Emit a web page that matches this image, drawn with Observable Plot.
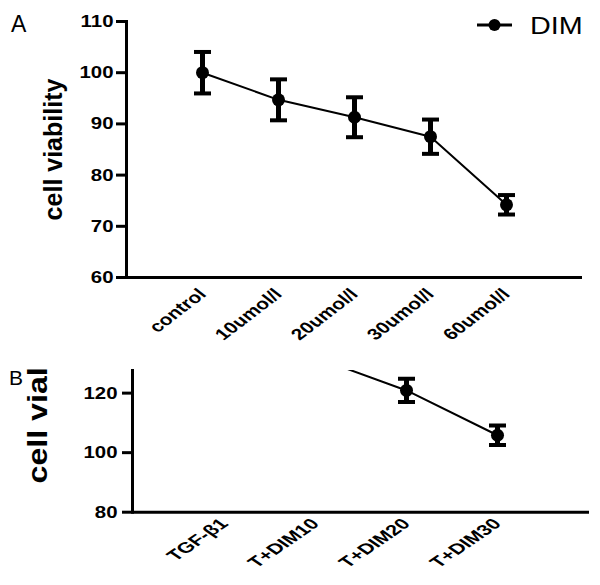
<!DOCTYPE html>
<html><head><meta charset="utf-8">
<script src="https://cdn.jsdelivr.net/npm/d3@7"></script>
<script src="https://cdn.jsdelivr.net/npm/@observablehq/plot@0.6"></script>
<style>
body{margin:0;background:#fff;}
#wrap{position:relative;width:600px;height:585px;overflow:hidden;font-family:"Liberation Sans",Arial,sans-serif;color:#000;}
#a,#b{position:absolute;left:0;}
#a{top:0}
#b{top:368px}
#a svg,#b svg{overflow:hidden;}
.lbl{position:absolute;line-height:1;}
</style></head><body>
<div id="wrap">
  <div id="a"></div>
  <div id="b"></div>
  <div class="lbl" style="left:11px;top:12.5px;font-size:23px">A</div>
  <div class="lbl" style="left:9px;top:367px;font-size:21px">B</div>
  <svg style="position:absolute;left:474px;top:15px" width="42" height="20">
    <line x1="3" y1="10" x2="38" y2="10" stroke="#000" stroke-width="3"/>
    <circle cx="20.5" cy="10" r="6" fill="#000"/>
  </svg>
  <div class="lbl" style="left:530px;top:14.5px;font-size:23px;transform:scaleX(1.25);transform-origin:left top">DIM</div>
</div>
<script>
// Panel A data
const catsA = ["control", "10umol/l", "20umol/l", "30umol/l", "60umol/l"];
const meanA = [100, 94.7, 91.3, 87.5, 74.2];
const errA = [4.05, 4.0, 3.9, 3.35, 1.9];
const ticksA = [60, 70, 80, 90, 100, 110];

// Panel B data (first two points lie above the cropped panel)
const catsB = ["TGF-β1", "T+DIM10", "T+DIM20", "T+DIM30"];
const meanB = [140, 132, 120.9, 105.85];
const errB = [4, 3.5, 3.9, 3.25];
const ticksB = [80, 100, 120];

const dataA = catsA.map((c, i) => ({c, m: meanA[i], e: errA[i]}));
const dataB = catsB.map((c, i) => ({c, m: meanB[i], e: errB[i]}));

const cap = {draw(ctx, size) { const r = Math.sqrt(size / Math.PI); ctx.moveTo(-r, 0); ctx.lineTo(r, 0); }};

function seriesMarks(data, clip) {
  return [
    Plot.line(data, {x: "c", y: "m", stroke: "#000", strokeWidth: 2, clip}),
    Plot.ruleX(data, {x: "c", y1: d => d.m - d.e, y2: d => d.m + d.e, stroke: "#000", strokeWidth: 5, clip}),
    Plot.dot(data, {x: "c", y: d => d.m - d.e, symbol: cap, r: 8.5, stroke: "#000", fill: "none", strokeWidth: 4, clip}),
    Plot.dot(data, {x: "c", y: d => d.m + d.e, symbol: cap, r: 8.5, stroke: "#000", fill: "none", strokeWidth: 4, clip}),
    Plot.dot(data, {x: "c", y: "m", r: 6.5, fill: "#000", clip})
  ];
}

const style = {fontFamily: "'Liberation Sans', Arial, sans-serif", color: "#000", background: "transparent"};

const plotA = Plot.plot({
  width: 600, height: 368,
  marginLeft: 126, marginRight: 18, marginTop: 21, marginBottom: 91,
  style,
  x: {type: "point", domain: catsA, padding: 1, axis: null},
  y: {domain: [60, 110], axis: null},
  marks: [
    Plot.axisY({ticks: ticksA, tickSize: 10, tickPadding: 3, strokeWidth: 3, fontSize: 17, fontWeight: "bold", label: null}),
    Plot.axisX({tickSize: 0, tickPadding: 14, tickRotate: -45, fontSize: 16, fontWeight: "bold", label: null}),
    Plot.frame({anchor: "left", strokeWidth: 3}),
    Plot.ruleY([60], {strokeWidth: 3}),
    Plot.text(["cell viability"], {frameAnchor: "left", dx: -73, rotate: -90, textAnchor: "middle", fontSize: 25, fontWeight: "bold"}),
    ...seriesMarks(dataA, false)
  ]
});

const plotB = Plot.plot({
  width: 600, height: 217,
  marginLeft: 132, marginRight: 11, marginTop: 2, marginBottom: 73.3,
  style,
  x: {type: "point", domain: catsB, padding: 1, axis: null},
  y: {domain: [80, 127.6], axis: null},
  marks: [
    Plot.axisY({ticks: ticksB, tickSize: 10, tickPadding: 5, strokeWidth: 3, fontSize: 17, fontWeight: "bold", label: null}),
    Plot.axisX({tickSize: 0, tickPadding: 9, tickRotate: -45, fontSize: 15, fontWeight: "bold", label: null}),
    Plot.frame({anchor: "left", strokeWidth: 3}),
    Plot.ruleY([80], {strokeWidth: 3}),
    Plot.text(["cell vial"], {frameAnchor: "bottom-left", dx: -86, dy: -28.7, rotate: -90, textAnchor: "start", fontSize: 28, fontWeight: "bold"}),
    ...seriesMarks(dataB, true)
  ]
});

// stretch tick labels horizontally (screen space), like the reference image
function stretch(svg, axis, s) {
  svg.querySelectorAll(`g[aria-label="${axis}-axis tick label"] text`).forEach(t => {
    const tr = t.getAttribute("transform");
    if (tr && tr.includes("translate(")) {
      t.setAttribute("transform", tr.replace(/(translate\([^)]*\))/, `$1 scale(${s},1)`));
    }
  });
}
stretch(plotA, "y", 1.2);
stretch(plotA, "x", 1.3);
stretch(plotB, "y", 1.2);
stretch(plotB, "x", 1.45);
// lengthen the clipped panel-B axis title along its direction
plotB.querySelectorAll("text").forEach(t => {
  if (t.textContent === "cell vial") t.setAttribute("transform", t.getAttribute("transform") + " scale(1.15,1)");
});

document.getElementById("a").append(plotA);
document.getElementById("b").append(plotB);
</script>
</body></html>
